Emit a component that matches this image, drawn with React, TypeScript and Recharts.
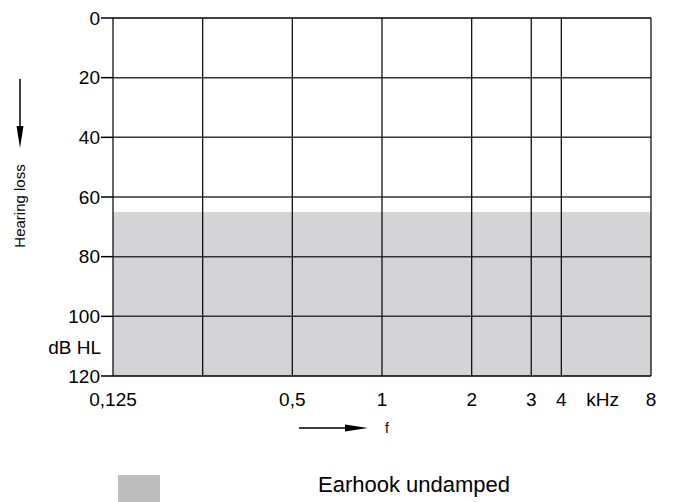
import { ComposedChart, Area, XAxis, YAxis, ReferenceLine, Legend, Customized } from 'recharts';

// frequency grid (kHz) and the 3 kHz line as drawn in the source (slightly right of true log position)
const freqs = [0.125, 0.25, 0.5, 1, 2, 3.17, 4, 8];
const freqLabels = ['0,125', '', '0,5', '1', '2', '3', '4', '8'];
const unitTick = 5.5;
const levelTicks = [0, 20, 40, 60, 80, 100, 120];
// Earhook undamped fitting range: from 65 dB HL down to 120
const earhookTop = [65, 65, 65, 65, 65, 65, 65, 65];
const earhookBottom = [120, 120, 120, 120, 120, 120, 120, 120];

const data = freqs.map((f, i) => ({ f, band: [earhookTop[i], earhookBottom[i]] }));

const FONT = '"Liberation Sans", Arial, sans-serif';

function XTick(props: any) {
  const { x, y, payload } = props;
  const i = freqs.indexOf(payload.value);
  const label = i >= 0 ? freqLabels[i] : 'kHz';
  return (
    <text x={x} y={y} dy="0.71em" textAnchor="middle" fontSize={19} fontFamily={FONT} fill="#000">
      {label}
    </text>
  );
}

function Extras() {
  return (
    <g fontFamily={FONT} fill="#000">
      <text x={101} y={347} textAnchor="end" dominantBaseline="central" fontSize={19}>dB HL</text>
      <line x1={20} y1={79} x2={20} y2={128} stroke="#000" strokeWidth={1.5} />
      <polygon points="16.5,126 23.5,126 20,148" fill="#000" />
      <text x={25} y={206} transform="rotate(-90 25 206)" textAnchor="middle" fontSize={15}>Hearing loss</text>
      <line x1={299} y1={428} x2={350} y2={428} stroke="#000" strokeWidth={1.5} />
      <polygon points="345,424.5 345,431.5 368,428" fill="#000" />
      <text x={387} y={428} textAnchor="middle" dominantBaseline="central" fontSize={14}>f</text>
    </g>
  );
}

function LegendBox() {
  return (
    <div style={{ position: 'relative', width: 675, height: 40, fontFamily: FONT }}>
      <div style={{ position: 'absolute', left: 118, top: 5, width: 42, height: 30, background: '#bebebf' }} />
      <div style={{ position: 'absolute', left: 318, top: 2, fontSize: 22, color: '#000' }}>Earhook undamped</div>
    </div>
  );
}

export default function App() {
  return (
    <div style={{ position: 'absolute', left: 0, top: 0, background: '#fff' }}>
      <ComposedChart width={675} height={502} data={data} margin={{ top: 18, right: 24, left: 0, bottom: 0 }}>
        <XAxis
          dataKey="f"
          type="number"
          scale="log"
          domain={[0.125, 8]}
          ticks={[...freqs.slice(0, 7), unitTick, 8]}
          interval={0}
          tick={<XTick />}
          tickLine={false}
          axisLine={false}
          tickSize={0}
          tickMargin={17}
          height={126}
          allowDataOverflow
        />
        <YAxis
          type="number"
          domain={[0, 120]}
          reversed
          ticks={levelTicks}
          tickSize={12}
          tickMargin={1}
          width={113}
          axisLine={false}
          tickLine={{ stroke: '#000', strokeWidth: 1.5 }}
          tick={{ fontSize: 19, fill: '#000', fontFamily: FONT }}
          interval={0}
        />
        <Area
          dataKey="band"
          name="Earhook undamped"
          type="linear"
          stroke="none"
          fill="#d4d4d6"
          fillOpacity={1}
          dot={false}
          activeDot={false}
          isAnimationActive={false}
        />
        {levelTicks.map((v) => (
          <ReferenceLine key={'h' + v} y={v} stroke={v === 0 || v === 120 ? '#000' : '#333'} strokeWidth={1.5} />
        ))}
        {freqs.map((f) => (
          <ReferenceLine key={'v' + f} x={f} stroke="#111" strokeWidth={1.3} />
        ))}
        <Customized component={Extras} />
        <Legend
          layout="horizontal"
          verticalAlign="middle"
          align="center"
          content={() => <LegendBox />}
          wrapperStyle={{ position: 'absolute', left: 0, top: 470, width: 675 }}
        />
      </ComposedChart>
    </div>
  );
}
